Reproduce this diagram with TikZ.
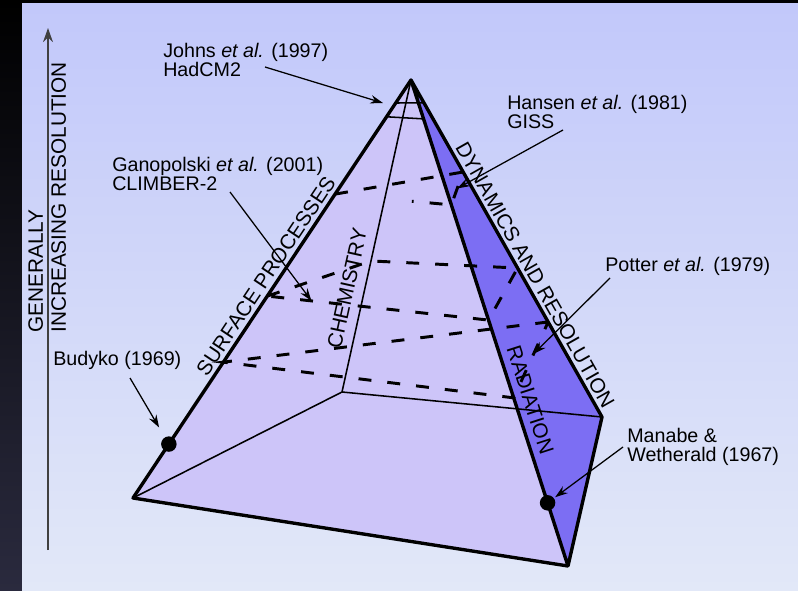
\documentclass[tikz,border=0pt]{standalone}
\usepackage{fontspec}
\setmainfont{Liberation Sans}
\usetikzlibrary{arrows.meta,calc}
\definecolor{panel-top}{RGB}{194,200,250}
\definecolor{panel-mid}{RGB}{200,228,250}
\definecolor{panel-bot}{RGB}{226,232,248}
\definecolor{frame-bot}{RGB}{42,42,62}
\definecolor{face-front}{RGB}{205,197,249}
\definecolor{face-right}{RGB}{124,110,243}

\begin{document}
\begin{tikzpicture}[x=0.025cm, y=-0.025cm, >=Stealth,
    font=\fontsize{14}{13.3}\selectfont,
    edge/.style={line width=2.4pt, line join=round},
    backline/.style={line width=1.1pt},
    hid/.style={line width=2.1pt, dash pattern=on 9.2pt off 11.4pt},
    ann/.style={->, line width=0.9pt, >={Stealth[length=9pt,width=6pt,inset=3pt]}},
    lbl/.style={anchor=north west, inner sep=0pt, align=left},
    elbl/.style={sloped, above, inner sep=#1, font=\fontsize{14.8}{16}\selectfont},
    dotmark/.style={circle, fill=black, inner sep=0pt, minimum size=11pt}]

  % backdrop
  \useasboundingbox (0,0) rectangle (798,591);
  \fill[black] (0,0) rectangle (798,591);
  \shade[top color=black, bottom color=frame-bot] (0,0) rectangle (22,591);
  \shade[top color=panel-top, middle color=panel-mid, bottom color=panel-bot] (22,4) rectangle (798,591);

  % resolution axis
  \coordinate (res-bot) at (48,550);
  \coordinate (res-top) at (48,28);
  \draw[->, line width=1.4pt, black!75, >={Stealth[length=10pt,width=7pt]}] (res-bot) -- (res-top);
  \node[rotate=90, anchor=north west, inner sep=0pt, align=left,
        font=\fontsize{14.8}{16.4}\selectfont] (res-lbl) at (28,333) {GENERALLY\\INCREASING RESOLUTION};

  % pyramid corners
  \coordinate (A) at (411,80);
  \coordinate (L) at (133,498);
  \coordinate (F) at (568,566);
  \coordinate (R) at (602,417);
  \coordinate (B) at (342,392);

  \fill[face-front] (A) -- (L) -- (F) -- cycle;
  \fill[face-right] (A) -- (F) -- (R) -- cycle;
  \draw[backline] (B) -- (L) (B) -- (R) (B) -- (A);
  \draw[backline] ($(A)!0.055!(L)$) -- ($(A)!0.068!(R)$)
                  ($(A)!0.088!(L)$) -- ($(A)!0.08!(F)$);

  % model planes
  \coordinate (lb) at ($(A)!0.273!(L)$);
  \coordinate (rb) at ($(A)!0.273!(R)$);
  \coordinate (fb) at ($(A)!0.257!(F)$);
  \coordinate (la) at ($(A)!0.517!(L)$);
  \coordinate (ba) at ($(A)!0.58!(B)$);
  \coordinate (ra) at ($(A)!0.558!(R)$);
  \coordinate (fa) at ($(A)!0.494!(F)$);
  \coordinate (lc) at ($(A)!0.675!(L)$);
  \coordinate (rc) at ($(A)!0.718!(R)$);
  \coordinate (fc) at ($(A)!0.654!(F)$);
  \draw[hid] (lb) -- (rb) -- (fb) -- ($(fb)!0.34!(lb)$);
  \draw[hid] (la) -- (ba) -- (ra) -- (fa) -- cycle;
  \draw[hid] (rc) -- (lc) -- (fc) -- (rc);

  \draw[edge] (A) -- (L) -- (F) -- (R) -- cycle (A) -- (F);

  \node[dotmark] (budyko-dot) at ($(L)!0.129!(A)$) {};
  \node[dotmark] (manabe-dot) at ($(F)!0.13!(A)$) {};

  % edge labels
  \path (L) -- (A) node[elbl=3.4pt, pos=0.515] {SURFACE PROCESSES};
  \path (B) -- (A) node[elbl=7pt, pos=0.32] {CHEMISTRY};
  \path (A) -- (R) node[elbl=3pt, pos=0.596] {DYNAMICS AND RESOLUTION};
  \path (A) -- (F) node[elbl=5.4pt, pos=0.668] {RADIATION};

  % models
  \node[lbl] (johns) at (163,43) {Johns \textit{et al.} (1997)\\HadCM2};
  \node[lbl] (hansen) at (507,95) {Hansen \textit{et al.} (1981)\\GISS};
  \node[lbl] (ganop) at (112,157) {Ganopolski \textit{et al.} (2001)\\CLIMBER-2};
  \node[lbl] (potter) at (605,257) {Potter \textit{et al.} (1979)};
  \node[lbl] (budyko) at (53,351) {Budyko (1969)};
  \node[lbl] (manabe) at (627,428) {Manabe \&\\Wetherald (1967)};

  \coordinate (johns-tail) at (265,67);
  \coordinate (johns-tip) at (383,103);
  \coordinate (hansen-tail) at (563,130);
  \coordinate (hansen-tip) at ($(fb)!0.5!(rb)$);
  \coordinate (ganop-tail) at (230,192);
  \coordinate (ganop-tip) at ($(la)!0.2!(fa)$);
  \coordinate (potter-tail) at (610,278);
  \coordinate (potter-tip) at ($(fc)!0.58!(rc)$);
  \coordinate (budyko-tail) at (130,378);
  \coordinate (manabe-tail) at (623,447);

  \draw[ann] (johns-tail) -- (johns-tip);
  \draw[ann] (hansen-tail) -- (hansen-tip);
  \draw[ann] (ganop-tail) -- (ganop-tip);
  \draw[ann] (potter-tail) -- (potter-tip);
  \draw[ann, shorten >=8pt] (budyko-tail) -- (budyko-dot);
  \draw[ann, shorten >=1pt] (manabe-tail) -- (manabe-dot);
\end{tikzpicture}
\end{document}
